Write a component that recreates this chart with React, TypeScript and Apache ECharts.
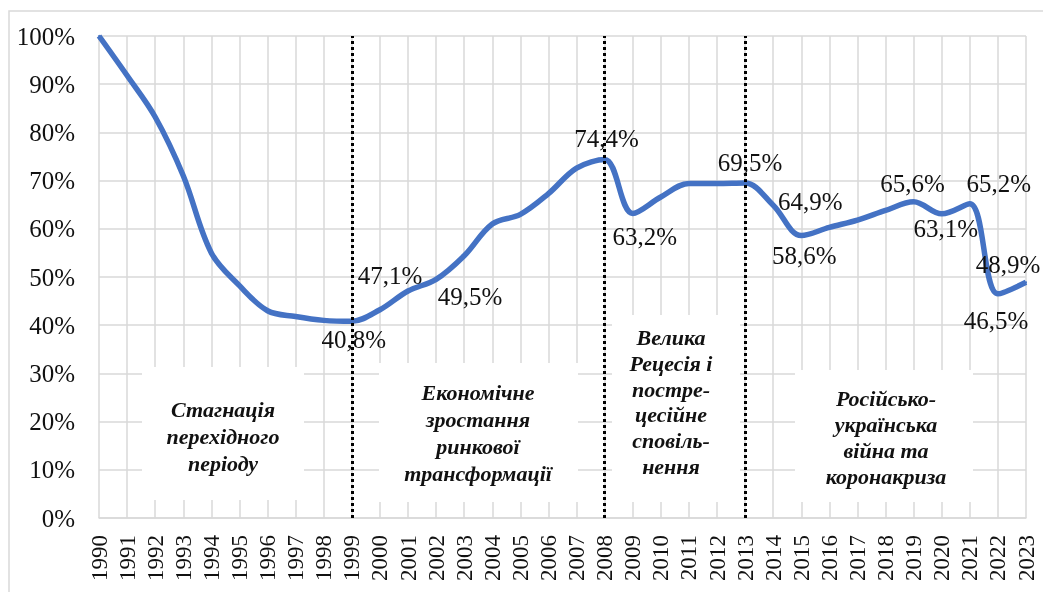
import React, { useEffect, useRef } from "react";
import * as echarts from "echarts";

const years: string[] = [
  "1990","1991","1992","1993","1994","1995","1996","1997","1998","1999",
  "2000","2001","2002","2003","2004","2005","2006","2007","2008","2009",
  "2010","2011","2012","2013","2014","2015","2016","2017","2018","2019",
  "2020","2021","2022","2023",
];

const shareValues: number[] = [
  100, 91.8, 83.2, 71.0, 55.0, 48.2, 43.0, 41.8, 41.0, 40.8,
  43.2, 47.1, 49.5, 54.4, 61.0, 63.0, 67.3, 72.6, 74.4, 63.2,
  66.6, 69.4, 69.4, 69.5, 64.9, 58.6, 60.3, 61.8, 63.8, 65.6,
  63.1, 65.2, 46.5, 48.9,
];

const yTicks: number[] = [0, 10, 20, 30, 40, 50, 60, 70, 80, 90, 100];

const periodBoundaries: string[] = ["1999", "2008", "2013"];

// label placement (offset from point to label centre), keyed by year
const labelPlacement: Record<string, [number, number]> = {
  "1999": [2, 18],
  "2001": [-18, -15],
  "2002": [34, 17],
  "2008": [2, -21],
  "2009": [12, 23],
  "2013": [5, -21],
  "2014": [37, -4],
  "2015": [3, 20],
  "2019": [-1, -18],
  "2020": [4, 15],
  "2021": [29, -20],
  "2022": [-2, 27],
  "2023": [-18, -18],
};

const periodTexts: string[][] = [
  ["Стагнація", "перехідного", "періоду"],
  ["Економічне", "зростання", "ринкової", "трансформації"],
  ["Велика", "Рецесія і", "постре-", "цесійне", "сповіль-", "нення"],
  ["Російсько-", "українська", "війна та", "коронакриза"],
];

const periodBoxes = [
  { x: 142, y: 367, w: 162, h: 133, cx: 223, cy: 436, lh: 27 },
  { x: 379, y: 363, w: 199, h: 139, cx: 478, cy: 433, lh: 26.7 },
  { x: 612, y: 315, w: 128, h: 187, cx: 671, cy: 402, lh: 25.8 },
  { x: 795, y: 370, w: 178, h: 132, cx: 886, cy: 437, lh: 26 },
];

const FONT = "Liberation Serif";
const fmt = (v: number) => `${v.toFixed(1).replace(".", ",")}%`;

export default function App() {
  const ref = useRef<HTMLDivElement>(null);
  useEffect(() => {
    if (!ref.current) return;
    const chart = echarts.init(ref.current, undefined, { renderer: "svg" });

    const data = shareValues.map((v, i) => {
      const pl = labelPlacement[years[i]];
      if (!pl) return { value: v, label: { show: false } };
      return {
        value: v,
        label: {
          show: true,
          position: "inside",
          offset: pl,
          formatter: fmt(v),
          fontFamily: FONT,
          fontSize: 25,
          color: "#111",
        },
      };
    });

    const graphics: any[] = [
      {
        type: "rect",
        shape: { x: 9, y: 11, width: 1040, height: 590 },
        style: { fill: "none", stroke: "#d9d9d9", lineWidth: 1.5 },
        silent: true,
        z: 0,
      },
    ];
    periodBoxes.forEach((b, i) => {
      graphics.push({
        type: "rect",
        silent: true,
        z: 20,
        shape: { x: b.x, y: b.y, width: b.w, height: b.h },
        style: { fill: "#fff" },
      });
      const n = periodTexts[i].length;
      periodTexts[i].forEach((line, j) => {
        graphics.push({
          type: "text",
          silent: true,
          z: 21,
          style: {
            text: line,
            x: b.cx,
            y: b.cy + (j - (n - 1) / 2) * b.lh,
            align: "center",
            verticalAlign: "middle",
            font: `italic bold 22px ${FONT}`,
            fill: "#111",
          },
        });
      });
    });

    chart.setOption({
      animation: false,
      grid: { left: 99, right: 17, top: 36, bottom: 74, containLabel: false },
      xAxis: {
        type: "category",
        data: years,
        boundaryGap: false,
        axisLine: { show: true, lineStyle: { color: "#d9d9d9", width: 1.5 } },
        axisTick: { show: false },
        splitLine: { show: true, interval: 0, lineStyle: { color: "#d9d9d9", width: 1.5 } },
        axisLabel: {
          interval: 0,
          rotate: 90,
          margin: 17,
          fontFamily: FONT,
          fontSize: 23,
          color: "#111",
        },
      },
      yAxis: {
        type: "value",
        min: yTicks[0],
        max: yTicks[yTicks.length - 1],
        interval: 10,
        axisLine: { show: false },
        axisTick: { show: false },
        splitLine: { show: true, lineStyle: { color: "#d9d9d9", width: 1.5 } },
        axisLabel: {
          margin: 24,
          fontFamily: FONT,
          fontSize: 25,
          color: "#111",
          formatter: "{value}%",
        },
      },
      graphic: graphics,
      series: [
        {
          type: "line",
          data,
          smooth: 0.35,
          showSymbol: true,
          symbol: "circle",
          symbolSize: 2,
          itemStyle: { color: "#4472C4" },
          lineStyle: { color: "#4472C4", width: 5.5 },
          z: 3,
          markLine: {
            silent: true,
            symbol: ["none", "none"],
            label: { show: false },
            lineStyle: { color: "#000", type: [3, 3], width: 3 },
            data: periodBoundaries.map((y) => ({ xAxis: y })),
          },
        },
      ],
    });
    return () => chart.dispose();
  }, []);
  return (
    <div
      ref={ref}
      style={{ position: "fixed", left: 0, top: 0, width: 1043, height: 592 }}
    />
  );
}
